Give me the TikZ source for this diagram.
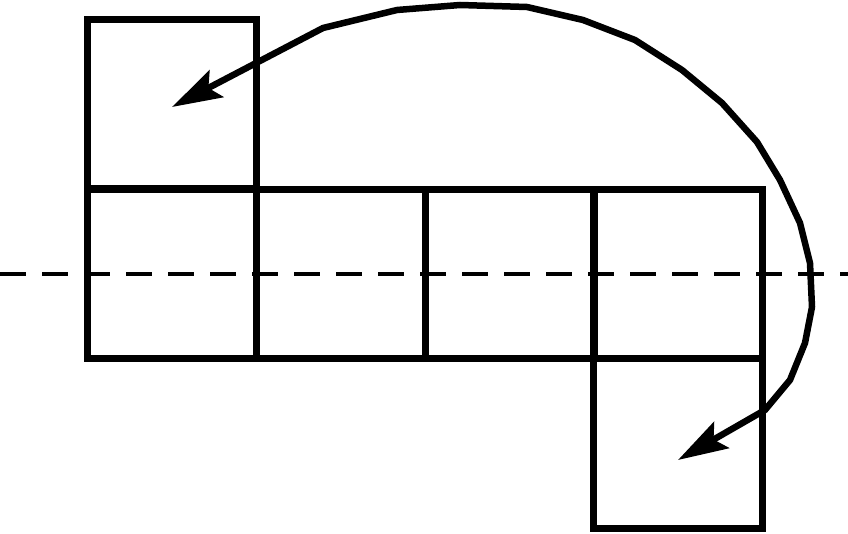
\documentclass[tikz,border=0pt]{standalone}
\usetikzlibrary{arrows.meta}
\begin{document}
\begin{tikzpicture}[x=1pt,y=1pt,
  sq/.style={draw,line width=7pt,minimum width=169pt,minimum height=169pt,inner sep=0pt,outer sep=0pt},
  axisline/.style={line width=4pt,dash pattern=on 26pt off 16pt},
  turn/.style={line width=6.5pt,line join=round,{Stealth[length=50pt,width=30pt,inset=9pt]}-{Stealth[length=50pt,width=30pt,inset=9pt]}}]
\useasboundingbox (0,0) rectangle (848,533);
\node[sq] (t) at (172,428.5) {};
\node[sq] (r1) at (172,258.5) {};
\node[sq] (r2) at (341,258.5) {};
\node[sq] (r3) at (509.5,258.5) {};
\node[sq] (r4) at (678,258.5) {};
\node[sq] (b) at (678,89.5) {};
\coordinate (L) at (0,259);
\coordinate (R) at (848,259);
\draw[axisline] (L) -- (R);
\coordinate (A) at (678,73);
\coordinate (P16) at (765,123);
\coordinate (P15) at (790,153);
\coordinate (P14) at (805,190);
\coordinate (P13) at (812,226);
\coordinate (P12) at (810,270);
\coordinate (P11) at (800,310);
\coordinate (P10) at (780,353);
\coordinate (P9) at (757,391);
\coordinate (P8) at (722,430);
\coordinate (P7) at (682,463);
\coordinate (P6) at (635,493);
\coordinate (P5) at (583,513);
\coordinate (P4) at (527,526);
\coordinate (P3) at (460,528);
\coordinate (P2) at (397,523);
\coordinate (P1) at (323,505);
\coordinate (D) at (172,426);
\draw[turn] (A) -- (P16) -- (P15) -- (P14) -- (P13) -- (P12) -- (P11) -- (P10) -- (P9) -- (P8) -- (P7) -- (P6) -- (P5) -- (P4) -- (P3) -- (P2) -- (P1) -- (D);
\end{tikzpicture}
\end{document}
